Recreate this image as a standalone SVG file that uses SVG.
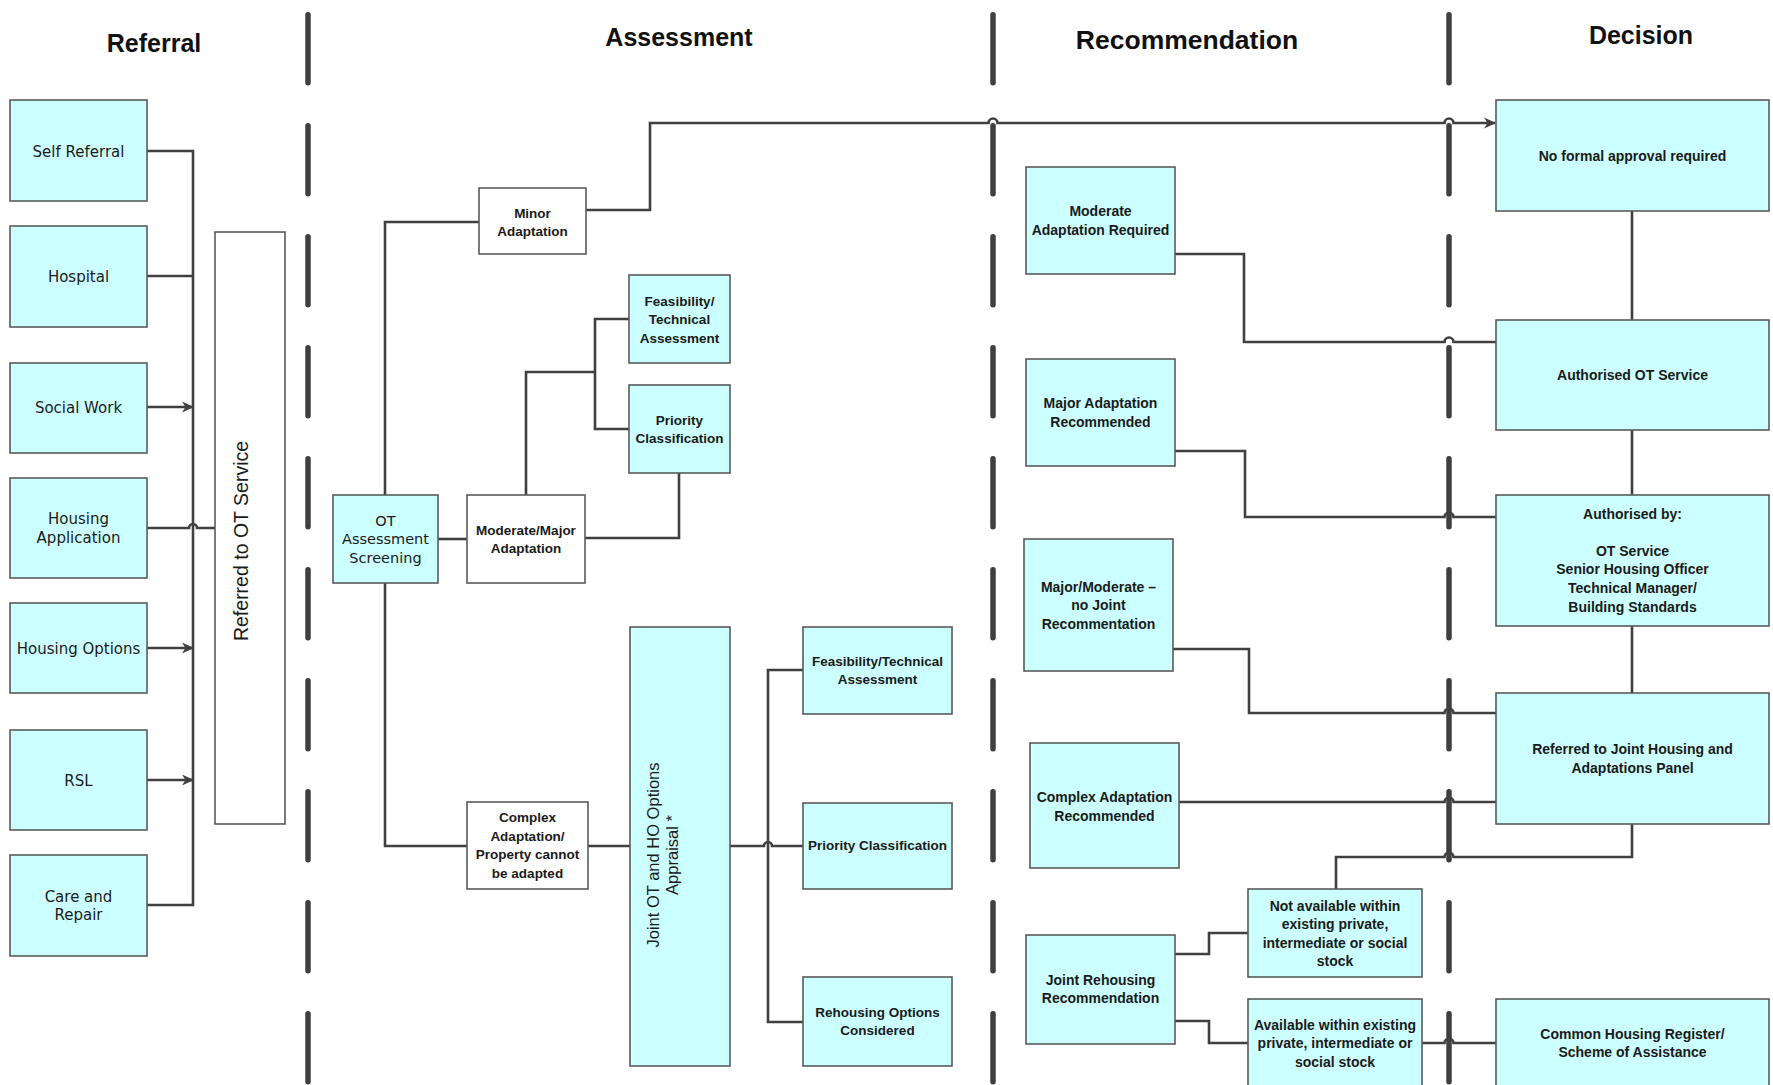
<svg xmlns="http://www.w3.org/2000/svg" width="1773" height="1085" viewBox="0 0 1773 1085">
<style>
.bg{fill:#ffffff}
.box{fill:#ccffff;stroke:#5a5a5a;stroke-width:1.6}
.wbox{fill:#ffffff;stroke:#5a5a5a;stroke-width:1.6}
.sep{stroke:#3f3f3f;stroke-width:5.5;stroke-linecap:round;stroke-dasharray:68 43;fill:none}
.con{stroke:#404040;stroke-width:2.6;fill:none}
.title{font-family:"Liberation Sans",Arial,sans-serif;font-weight:bold;font-size:25px;fill:#111;text-anchor:middle}
.ref{font-family:"DejaVu Sans",sans-serif;font-size:15px;fill:#1a1a1a;text-anchor:middle}
.scr{font-family:"DejaVu Sans",sans-serif;font-size:14.5px;fill:#1a1a1a;text-anchor:middle}
.vt{font-family:"Liberation Sans",Arial,sans-serif;font-size:19.5px;fill:#1a1a1a;text-anchor:middle}
.vt2{font-family:"Liberation Sans",Arial,sans-serif;font-size:16.5px;fill:#1a1a1a;text-anchor:middle}
.as{font-family:"Liberation Sans",Arial,sans-serif;font-weight:bold;font-size:13.5px;fill:#1a1a1a;text-anchor:middle}
.rc{font-family:"Liberation Sans",Arial,sans-serif;font-weight:bold;font-size:14px;fill:#1a1a1a;text-anchor:middle}
</style>
<defs>
<marker id="arr" viewBox="0 0 12 12" refX="11" refY="6" markerWidth="12" markerHeight="12" markerUnits="userSpaceOnUse" orient="auto">
<path d="M0,0.5 L12,6 L0,11.5 L3.5,6 z" fill="#404040"/>
</marker>
</defs>
<rect class="bg" x="0" y="0" width="1773" height="1085"/>

<g id="titles">
<text class="title" x="154" y="52">Referral</text>
<text class="title" x="679" y="46">Assessment</text>
<text class="title" x="1187" y="49" style="font-size:26.5px">Recommendation</text>
<text class="title" x="1641" y="44">Decision</text>
</g>

<g id="separators">
<line class="sep" x1="308" y1="14.75" x2="308" y2="1100"/>
<line class="sep" x1="993" y1="14.75" x2="993" y2="1100"/>
<line class="sep" x1="1449" y1="14.75" x2="1449" y2="1100"/>
</g>

<g id="connectors">
<path class="con" d="M147,151 H193 V905 H147"/>
<path class="con" d="M147,276 H193"/>
<path class="con" d="M147,407 H193" marker-end="url(#arr)"/>
<path class="con" d="M147,648 H193" marker-end="url(#arr)"/>
<path class="con" d="M147,780 H193" marker-end="url(#arr)"/>
<path class="con" d="M147,528 H189 A4,4 0 0 1 197,528 H215"/>
<path class="con" d="M385,495 V222 H479"/>
<path class="con" d="M438,539 H467"/>
<path class="con" d="M385,583 V846 H467"/>
<path class="con" d="M526,495 V372 H595"/>
<path class="con" d="M629,319 H595 V429 H629"/>
<path class="con" d="M585,538 H679 V473"/>
<path class="con" d="M588,846 H630"/>
<path class="con" d="M730,846 H764 A4,4 0 0 1 772,846 H803"/>
<path class="con" d="M803,670 H768 V1022 H803"/>
<path class="con" d="M586,210 H650 V123 H988.5 A4.5,4.5 0 0 1 997.5,123 H1444.5 A4.5,4.5 0 0 1 1453.5,123 H1495" marker-end="url(#arr)"/>
<path class="con" d="M1175,254 H1244 V342 H1444.5 A4.5,4.5 0 0 1 1453.5,342 H1496"/>
<path class="con" d="M1175,451 H1245 V517 H1444.5 A4.5,4.5 0 0 1 1453.5,517 H1496"/>
<path class="con" d="M1173,649 H1249 V713 H1444.5 A4.5,4.5 0 0 1 1453.5,713 H1496"/>
<path class="con" d="M1179,802 H1444.5 A4.5,4.5 0 0 1 1453.5,802 H1496"/>
<path class="con" d="M1632,824 V857 H1453.5 A4.5,4.5 0 0 0 1444.5,857 H1336 V889"/>
<path class="con" d="M1175,954 H1209 V933 H1248"/>
<path class="con" d="M1175,1021 H1209 V1043 H1248"/>
<path class="con" d="M1422,1043 H1444.5 A4.5,4.5 0 0 1 1453.5,1043 H1496"/>
<path class="con" d="M1632,211 V320"/>
<path class="con" d="M1632,430 V495"/>
<path class="con" d="M1632,626 V693"/>
</g>

<g id="node-self-referral">
<rect class="box" x="10" y="100" width="137" height="101"/>
<text class="ref" x="78.5" y="156.5">Self Referral</text>
</g>
<g id="node-hospital">
<rect class="box" x="10" y="226" width="137" height="101"/>
<text class="ref" x="78.5" y="281.5">Hospital</text>
</g>
<g id="node-social-work">
<rect class="box" x="10" y="363" width="137" height="90"/>
<text class="ref" x="78.5" y="412.5">Social Work</text>
</g>
<g id="node-housing-application">
<rect class="box" x="10" y="478" width="137" height="100"/>
<text class="ref" x="78.5" y="523.5">Housing</text>
<text class="ref" x="78.5" y="542.5">Application</text>
</g>
<g id="node-housing-options">
<rect class="box" x="10" y="603" width="137" height="90"/>
<text class="ref" x="78.5" y="653.5">Housing Options</text>
</g>
<g id="node-rsl">
<rect class="box" x="10" y="730" width="137" height="100"/>
<text class="ref" x="78.5" y="785.5">RSL</text>
</g>
<g id="node-care-repair">
<rect class="box" x="10" y="855" width="137" height="101"/>
<text class="ref" x="78.5" y="901.5">Care and</text>
<text class="ref" x="78.5" y="919.5">Repair</text>
</g>
<g id="node-referred-ot">
<rect class="wbox" x="215" y="232" width="70" height="592"/>
<text class="vt" transform="translate(248,541) rotate(-90)" x="0" y="0">Referred to OT Service</text>
</g>

<g id="node-ot-screening">
<rect class="box" x="333" y="495" width="105" height="88"/>
<text class="scr" x="385.5" y="525.5">OT</text>
<text class="scr" x="385.5" y="543.5">Assessment</text>
<text class="scr" x="385.5" y="562.5">Screening</text>
</g>
<g id="node-minor">
<rect class="wbox" x="479" y="188" width="107" height="66"/>
<text class="as" x="532.5" y="218">Minor</text>
<text class="as" x="532.5" y="236">Adaptation</text>
</g>
<g id="node-moderate-major">
<rect class="wbox" x="467" y="495" width="118" height="88"/>
<text class="as" x="526" y="535">Moderate/Major</text>
<text class="as" x="526" y="553">Adaptation</text>
</g>
<g id="node-feas-small">
<rect class="box" x="629" y="275" width="101" height="88"/>
<text class="as" x="679.5" y="306">Feasibility/</text>
<text class="as" x="679.5" y="324">Technical</text>
<text class="as" x="679.5" y="343">Assessment</text>
</g>
<g id="node-priority-small">
<rect class="box" x="629" y="385" width="101" height="88"/>
<text class="as" x="679.5" y="425">Priority</text>
<text class="as" x="679.5" y="443">Classification</text>
</g>
<g id="node-complex">
<rect class="wbox" x="467" y="802" width="121" height="87"/>
<text class="as" x="527.5" y="822">Complex</text>
<text class="as" x="527.5" y="841">Adaptation/</text>
<text class="as" x="527.5" y="859">Property cannot</text>
<text class="as" x="527.5" y="878">be adapted</text>
</g>
<g id="node-joint-appraisal">
<rect class="box" x="630" y="627" width="100" height="439"/>
<text class="vt2" transform="translate(659,855) rotate(-90)" x="0" y="0">Joint OT and HO Options</text>
<text class="vt2" transform="translate(678,855) rotate(-90)" x="0" y="0">Appraisal *</text>
</g>
<g id="node-feas-big">
<rect class="box" x="803" y="627" width="149" height="87"/>
<text class="as" x="877.5" y="666">Feasibility/Technical</text>
<text class="as" x="877.5" y="684">Assessment</text>
</g>
<g id="node-priority-big">
<rect class="box" x="803" y="803" width="149" height="86"/>
<text class="as" x="877.5" y="850">Priority Classification</text>
</g>
<g id="node-rehousing">
<rect class="box" x="803" y="977" width="149" height="89"/>
<text class="as" x="877.5" y="1017">Rehousing Options</text>
<text class="as" x="877.5" y="1035">Considered</text>
</g>

<g id="node-moderate-required">
<rect class="box" x="1026" y="167" width="149" height="107"/>
<text class="rc" x="1100.5" y="216">Moderate</text>
<text class="rc" x="1100.5" y="235">Adaptation Required</text>
</g>
<g id="node-major-recommended">
<rect class="box" x="1026" y="359" width="149" height="107"/>
<text class="rc" x="1100.5" y="408">Major Adaptation</text>
<text class="rc" x="1100.5" y="427">Recommended</text>
</g>
<g id="node-major-moderate-nojoint">
<rect class="box" x="1024" y="539" width="149" height="132"/>
<text class="rc" x="1098.5" y="592">Major/Moderate –</text>
<text class="rc" x="1098.5" y="610">no Joint</text>
<text class="rc" x="1098.5" y="629">Recommentation</text>
</g>
<g id="node-complex-recommended">
<rect class="box" x="1030" y="743" width="149" height="125"/>
<text class="rc" x="1104.5" y="802">Complex Adaptation</text>
<text class="rc" x="1104.5" y="821">Recommended</text>
</g>
<g id="node-joint-rehousing">
<rect class="box" x="1026" y="935" width="149" height="109"/>
<text class="rc" x="1100.5" y="985">Joint Rehousing</text>
<text class="rc" x="1100.5" y="1003">Recommendation</text>
</g>
<g id="node-not-available">
<rect class="box" x="1248" y="889" width="174" height="88"/>
<text class="rc" x="1335" y="911">Not available within</text>
<text class="rc" x="1335" y="929">existing private,</text>
<text class="rc" x="1335" y="948">intermediate or social</text>
<text class="rc" x="1335" y="966">stock</text>
</g>
<g id="node-available">
<rect class="box" x="1248" y="999" width="174" height="100"/>
<text class="rc" x="1335" y="1030">Available within existing</text>
<text class="rc" x="1335" y="1048">private, intermediate or</text>
<text class="rc" x="1335" y="1067">social stock</text>
</g>

<g id="node-no-formal">
<rect class="box" x="1496" y="100" width="273" height="111"/>
<text class="rc" x="1632.5" y="161">No formal approval required</text>
</g>
<g id="node-authorised-ot">
<rect class="box" x="1496" y="320" width="273" height="110"/>
<text class="rc" x="1632.5" y="380">Authorised OT Service</text>
</g>
<g id="node-authorised-by">
<rect class="box" x="1496" y="495" width="273" height="131"/>
<text class="rc" x="1632.5" y="519">Authorised by:</text>
<text class="rc" x="1632.5" y="556">OT Service</text>
<text class="rc" x="1632.5" y="574">Senior Housing Officer</text>
<text class="rc" x="1632.5" y="593">Technical Manager/</text>
<text class="rc" x="1632.5" y="612">Building Standards</text>
</g>
<g id="node-referred-panel">
<rect class="box" x="1496" y="693" width="273" height="131"/>
<text class="rc" x="1632.5" y="754">Referred to Joint Housing and</text>
<text class="rc" x="1632.5" y="773">Adaptations Panel</text>
</g>
<g id="node-common-housing">
<rect class="box" x="1496" y="999" width="273" height="100"/>
<text class="rc" x="1632.5" y="1039">Common Housing Register/</text>
<text class="rc" x="1632.5" y="1057">Scheme of Assistance</text>
</g>
</svg>
